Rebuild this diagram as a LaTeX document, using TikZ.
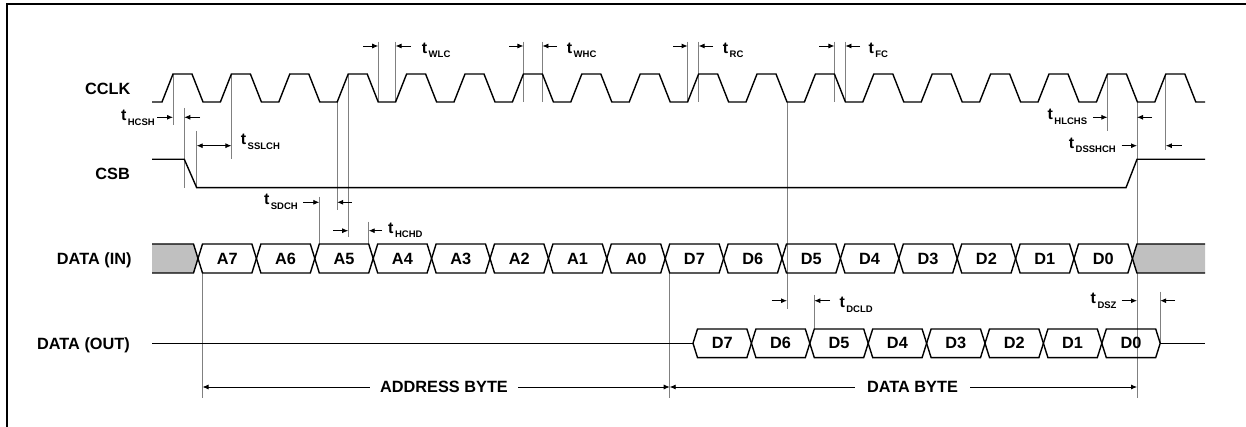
\documentclass[tikz,border=0pt]{standalone}
\usepackage{fontspec}
\setmainfont{Liberation Sans}
\usetikzlibrary{arrows.meta}
\definecolor{fillgray}{HTML}{C0C0C0}
\newcommand{\tlab}[1]{t\kern1.5pt\raisebox{-4.5pt}{\fontsize{9.5}{10}\selectfont #1}}
\begin{document}
\begin{tikzpicture}[x=1pt,y=-1pt,
  sig/.style={line width=1.4pt},
  guide/.style={gray,line width=0.7pt},
  dim/.style={-{Latex[length=6pt,width=5pt]},line width=0.8pt},
  dimb/.style={{Latex[length=6pt,width=5pt]}-{Latex[length=6pt,width=5pt]},line width=0.8pt},
  lbl/.style={font=\fontsize{16.3}{18}\selectfont\bfseries,inner sep=0pt},
  tl/.style={font=\fontsize{16}{18}\selectfont\bfseries,inner sep=0pt}]
\useasboundingbox (0,0) rectangle (1246,427);
%frame
\draw[line width=1.5pt] (7,427)--(7,4)--(1246,4);
%signal names
\node[lbl,anchor=base east] (cclk) at (130.5,95) {CCLK};
\node[lbl,anchor=base east] (csb) at (130,179.3) {CSB};
\node[lbl,anchor=base east] (din) at (131.7,264.3) {DATA (IN)};
\node[lbl,anchor=base east] (dout) at (130,349) {DATA (OUT)};
%guide lines
\draw[guide] (173,74)--(173,125);
\draw[guide] (184.3,108)--(184.3,187.7);
\draw[guide] (196.7,131)--(196.7,187.7);
\draw[guide] (231.4,74)--(231.4,159);
\draw[guide] (319.3,196.7)--(319.3,244);
\draw[guide] (337.2,102)--(337.2,210);
\draw[guide] (348.2,74)--(348.2,236.7);
\draw[guide] (368.7,221.7)--(368.7,244);
\draw[guide] (378.2,41.7)--(378.2,102);
\draw[guide] (395.6,41.7)--(395.6,102);
\draw[guide] (523.4,41.7)--(523.4,102);
\draw[guide] (542.4,41.7)--(542.4,102);
\draw[guide] (687.6,41.7)--(687.6,102);
\draw[guide] (698.6,41.7)--(698.6,102);
\draw[guide] (834.4,41.7)--(834.4,102);
\draw[guide] (845.4,41.7)--(845.4,102);
\draw[guide] (787,102)--(787,309);
\draw[guide] (814.3,295)--(814.3,329);
\draw[guide] (1107.4,74)--(1107.4,131);
\draw[guide] (1137,102)--(1137,398);
\draw[guide] (1165.8,74)--(1165.8,150);
\draw[guide] (1160.2,291.7)--(1160.2,343.3);
\draw[guide] (202.5,273)--(202.5,398);
\draw[guide] (669.7,273)--(669.7,398);
%clock
\draw[sig] (152,102) \foreach \k in {0,...,17}{ -- ({162+58.4*\k},102) -- ({173+58.4*\k},74) -- ({192+58.4*\k},74) -- ({203+58.4*\k},102)} -- (1205,102);
%chip select
\draw[sig] (152,159.3) -- (184.3,159.3) -- (196.7,187.7) -- (1126,187.7) -- (1137,159.3) -- (1205,159.3);
%data in
\fill[fillgray] (152,244) -- (193.5,244) -- (198,258.5) -- (193.5,273) -- (152,273) -- cycle;
\draw[sig] (152,244) -- (193.5,244) -- (198,258.5) -- (193.5,273) -- (152,273);
\fill[fillgray] (1205,244) -- (1136.9,244) -- (1132.4,258.5) -- (1136.9,273) -- (1205,273) -- cycle;
\draw[sig] (1205,244) -- (1136.9,244) -- (1132.4,258.5) -- (1136.9,273) -- (1205,273);
\foreach \lbl [count=\k from 0] in {A7,A6,A5,A4,A3,A2,A1,A0,D7,D6,D5,D4,D3,D2,D1,D0}{
  \pgfmathsetmacro\xa{198+58.4*\k}
  \pgfmathsetmacro\xb{\xa+58.4}
  \draw[sig] (\xa,258.5) -- (\xa+4.5,244) -- (\xb-4.5,244) -- (\xb,258.5) -- (\xb-4.5,273) -- (\xa+4.5,273) -- cycle;
  \node[lbl] (in\k) at (\xa+29.2,258.5) {\lbl};
}
%data out
\draw[sig] (152,343.3) -- (693,343.3);
\draw[sig] (1160.2,343.3) -- (1205,343.3);
\foreach \lbl [count=\k from 0] in {D7,D6,D5,D4,D3,D2,D1,D0}{
  \pgfmathsetmacro\xa{693+58.4*\k}
  \pgfmathsetmacro\xb{\xa+58.4}
  \draw[sig] (\xa,343.3) -- (\xa+4.5,329) -- (\xb-4.5,329) -- (\xb,343.3) -- (\xb-4.5,357.6) -- (\xa+4.5,357.6) -- cycle;
  \node[lbl] (out\k) at (\xa+29.2,343.3) {\lbl};
}
%tHCSH
\draw[dim] (157,117.3)--(173,117.3);
\draw[dim] (200,117.3)--(184.3,117.3);
\node[tl,anchor=base east] (thcsh) at (155,120.7) {\tlab{HCSH}};
%tSSLCH
\draw[dimb] (196.7,145.7)--(231.4,145.7);
\node[tl,anchor=base west] (tsslch) at (240.7,145) {\tlab{SSLCH}};
%tWLC
\draw[dim] (363,46)--(378.2,46);
\draw[dim] (411,46)--(395.6,46);
\node[tl,anchor=base west] (twlc) at (421.7,53.3) {\tlab{WLC}};
%tWHC
\draw[dim] (509,46)--(523.4,46);
\draw[dim] (557,46)--(542.4,46);
\node[tl,anchor=base west] (twhc) at (566.7,53.3) {\tlab{WHC}};
%tRC
\draw[dim] (673,46)--(687.6,46);
\draw[dim] (713,46)--(698.6,46);
\node[tl,anchor=base west] (trc) at (722.7,53.3) {\tlab{RC}};
%tFC
\draw[dim] (819,46)--(834.4,46);
\draw[dim] (860,46)--(845.4,46);
\node[tl,anchor=base west] (tfc) at (868.3,53.3) {\tlab{FC}};
%tSDCH
\draw[dim] (303,202.3)--(319.3,202.3);
\draw[dim] (351.5,202.3)--(337.2,202.3);
\node[tl,anchor=base east] (tsdch) at (298,205) {\tlab{SDCH}};
%tHCHD
\draw[dim] (333.3,230.7)--(348.2,230.7);
\draw[dim] (382,230.7)--(368.7,230.7);
\node[tl,anchor=base west] (thchd) at (388,233.3) {\tlab{HCHD}};
%tDCLD
\draw[dim] (771.7,300.7)--(787,300.7);
\draw[dim] (830,300.7)--(814.3,300.7);
\node[tl,anchor=base west] (tdcld) at (839.3,307.7) {\tlab{DCLD}};
%tHLCHS
\draw[dim] (1093,117.3)--(1107.4,117.3);
\draw[dim] (1152,117.3)--(1137,117.3);
\node[tl,anchor=base east] (thlchs) at (1087.3,120) {\tlab{HLCHS}};
%tDSSHCH
\draw[dim] (1121.7,145.7)--(1137,145.7);
\draw[dim] (1181.7,145.7)--(1165.8,145.7);
\node[tl,anchor=base east] (tdsshch) at (1116,148.3) {\tlab{DSSHCH}};
%tDSZ
\draw[dim] (1121.7,300.7)--(1137,300.7);
\draw[dim] (1175,300.7)--(1160.2,300.7);
\node[tl,anchor=base east] (tdsz) at (1116.7,304) {\tlab{DSZ}};
%bytes
\draw[dimb] (202.5,387)--(669.7,387);
\draw[dimb] (669.7,387)--(1137,387);
\node[lbl,fill=white,inner xsep=10pt] (addr) at (444,387) {ADDRESS BYTE};
\node[lbl,fill=white,inner xsep=12pt] (dbyte) at (912.5,387) {DATA BYTE};
\end{tikzpicture}
\end{document}
